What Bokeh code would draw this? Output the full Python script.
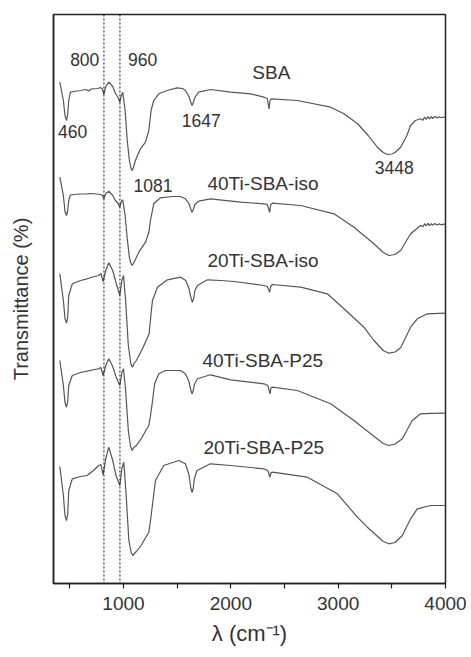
from bokeh.plotting import figure
from bokeh.models import Range1d, FixedTicker, Span, Label
from bokeh.embed import file_html
from bokeh.resources import INLINE

# ---------------- data ----------------
sba_wn = [407, 440, 455, 469, 480, 490, 505, 537, 600, 650, 676, 700, 760, 786, 805, 817, 835, 863, 900, 925, 950, 966,
          980, 993, 1015, 1035, 1055, 1068, 1080, 1093, 1111, 1158, 1205, 1236, 1257, 1282, 1329, 1406, 1499, 1550, 1577,
          1610, 1628, 1639, 1650, 1665, 1701, 1810, 2000, 2185, 2309, 2340, 2356, 2366, 2378, 2620, 2930, 3050, 3179, 3280,
          3365, 3420, 3458, 3500, 3530, 3582, 3640, 3675, 3720, 3768, 3790, 3805, 3820, 3835, 3850, 3865, 3880, 3900, 3920,
          3940, 3960, 3980, 4000]
sba_t = [501.3, 483, 468, 463, 469, 483, 491.3, 492, 493, 494, 492.5, 494.5, 495, 496, 494, 489, 497, 501.3, 497, 490, 486,
         481.3, 488, 491.3, 473, 443, 423, 416, 413, 416, 423, 434.7, 441.3, 453, 473, 483, 489.7, 493, 495.7, 495, 493, 487,
         481, 478, 481, 486, 491.3, 494, 491.3, 489.7, 486.3, 485, 474.7, 483, 484.7, 483, 476.3, 470, 460, 448, 436.3, 431,
         429, 429.5, 431, 436.3, 448, 458, 463, 464.7, 463.2, 466.5, 464, 467, 464.5, 466.8, 465, 467.2, 465.5, 466.8, 465.8,
         466.5, 466.3]

ti40_iso_wn = [407, 440, 455, 469, 480, 490, 505, 537, 600, 661, 700, 786, 805, 817, 835, 863, 900, 925, 950, 966, 980, 993,
               1015, 1035, 1055, 1068, 1081, 1094, 1111, 1143, 1205, 1236, 1251, 1282, 1344, 1450, 1530, 1577, 1610, 1628,
               1639, 1650, 1665, 1701, 1810, 2092, 2309, 2340, 2362, 2372, 2387, 2651, 2961, 3147, 3333, 3420, 3473, 3530,
               3582, 3675, 3768, 3790, 3805, 3820, 3835, 3850, 3865, 3880, 3900, 3920, 3940, 3960, 3980, 4000]
ti40_iso_t = [406.3, 388, 372, 368, 373, 383, 388.5, 389, 389.5, 389.7, 390, 389, 388, 384.7, 390, 392.3, 388, 383, 380, 376.3,
              382, 383.7, 368, 345, 326, 320.5, 318, 320.5, 324, 331.3, 341.3, 351, 363, 379.7, 385.7, 387, 387, 384.7, 380,
              374, 371.3, 374, 379, 382.3, 384.7, 381.3, 379.7, 379, 371.3, 379, 380.3, 378, 369.7, 356.3, 339.7, 331, 328,
              329, 333, 349.7, 358, 356.8, 359.8, 357.5, 360.2, 357.8, 359.9, 358.2, 360, 358.5, 359.6, 358.7, 359.3, 359]

ti20_iso_wn = [407, 440, 455, 469, 480, 490, 523, 600, 661, 730, 770, 790, 810, 835, 863, 900, 930, 966, 985, 1000, 1020,
               1045, 1068, 1083, 1098, 1120, 1177, 1239, 1255, 1270, 1316, 1409, 1533, 1580, 1610, 1630, 1642, 1654, 1665,
               1689, 1782, 1906, 2030, 2309, 2340, 2362, 2372, 2387, 2651, 2899, 3054, 3240, 3333, 3420, 3473, 3530, 3582,
               3675, 3737, 3830, 4000]
ti20_iso_t = [309.7, 283, 265, 260.3, 266, 288, 299.7, 303, 304.7, 307, 308, 310, 302, 313, 320.7, 313, 301, 288, 303, 308,
              283, 238, 220, 216.3, 220, 223, 234.7, 249.7, 268, 283, 296.3, 303.7, 306.3, 303, 295, 285, 281.3, 285, 293,
              298, 303.7, 303, 302, 298, 297, 291.3, 297, 299, 296.3, 289.7, 274.7, 256.3, 243, 233, 230.3, 231.5, 235.7,
              256.3, 264.7, 269.7, 270.3]

ti40_p25_wn = [407, 440, 455, 469, 480, 490, 523, 600, 661, 730, 770, 790, 810, 835, 863, 900, 930, 966, 985, 1000, 1020,
               1045, 1066, 1081, 1096, 1120, 1164, 1236, 1252, 1267, 1290, 1330, 1390, 1530, 1577, 1610, 1628, 1639, 1650,
               1660, 1689, 1810, 2000, 2309, 2345, 2365, 2375, 2388, 2620, 2930, 3147, 3303, 3420, 3473, 3530, 3598, 3690,
               3768, 3860, 4000]
ti40_p25_t = [223, 198, 181, 176.3, 182, 198, 208, 211, 212.3, 214, 214.7, 216, 208, 218, 224.7, 217, 207, 198, 211, 214.7,
              193, 153, 137, 133, 136, 138, 144.7, 158, 168, 179.7, 199.7, 209.7, 213, 213, 209.7, 202, 193, 189.7, 193,
              199, 204.7, 208.7, 203.7, 199.7, 198, 189.7, 196, 196.3, 193, 179.7, 163, 149.7, 140, 138, 139.5, 144.7,
              163, 169.7, 170.2, 170.3]

ti20_p25_wn = [407, 440, 455, 469, 480, 490, 523, 600, 661, 720, 770, 790, 810, 835, 863, 900, 930, 966, 985, 1003, 1025,
               1050, 1072, 1087, 1102, 1120, 1164, 1236, 1252, 1267, 1298, 1375, 1515, 1577, 1610, 1628, 1639, 1650, 1660,
               1686, 1810, 1999, 2309, 2345, 2365, 2375, 2388, 2713, 2993, 3179, 3272, 3420, 3473, 3530, 3598, 3675, 3737,
               3861, 4000]
ti20_p25_t = [117, 88, 68, 63, 69, 93, 104.7, 107, 108, 113, 118, 119, 108.7, 125, 136.3, 123, 108, 98, 115, 121.3, 88, 43,
              31, 28, 30, 32, 38, 51.3, 63, 76.3, 103, 118, 123, 119.7, 109, 95, 91.3, 95, 105, 113, 119.7, 118, 114.7,
              113, 106.3, 111, 111.3, 106.3, 89.7, 66.3, 56.3, 42, 39.7, 41, 48, 64.7, 74.7, 78, 78]

marker_lines = [818, 967]
x_ticks = [1000, 2000, 3000, 4000]
x_minor_ticks = [500, 1500, 2500, 3500]

series_names = ["SBA", "40Ti-SBA-iso", "20Ti-SBA-iso", "40Ti-SBA-P25", "20Ti-SBA-P25"]
series_label_x = [2200, 1782, 1782, 1735, 1745]
series_label_y = [511.3, 399.7, 323, 223, 136.3]

peak_texts = ["800", "960", "460", "1647", "1081", "3448"]
peak_x = [503, 1043, 391, 1543, 1093, 3342]
peak_y = [523.7, 523.7, 452.3, 463, 398, 416.3]

# ---------------- figure ----------------
FONT = "Liberation Sans"
p = figure(width=471, height=657, output_backend="svg", toolbar_location=None,
           x_range=Range1d(348, 4000), y_range=Range1d(0, 569),
           min_border_left=53, min_border_right=26, min_border_top=14, min_border_bottom=74)
p.xgrid.visible = False
p.ygrid.visible = False
p.background_fill_color = "white"
p.border_fill_color = "white"
p.outline_line_color = "#222222"
p.outline_line_width = 1.5
p.outline_line_alpha = 1

xa = p.xaxis[0]
xa.ticker = FixedTicker(ticks=x_ticks, minor_ticks=x_minor_ticks)
xa.major_tick_in = 0
xa.major_tick_out = 5
xa.minor_tick_in = 0
xa.minor_tick_out = 5
xa.major_tick_line_color = "#222222"
xa.minor_tick_line_color = "#222222"
xa.major_tick_line_width = 1.2
xa.minor_tick_line_width = 1.2
xa.axis_line_color = "#222222"
xa.axis_line_width = 1.5
xa.major_label_text_font = FONT
xa.major_label_text_font_size = "19px"
xa.major_label_text_color = "#333333"
xa.major_label_standoff = 8
xa.axis_label = "λ (cm⁻¹)"
xa.axis_label_text_font = FONT
xa.axis_label_text_font_size = "22px"
xa.axis_label_text_font_style = "normal"
xa.axis_label_text_color = "#333333"
xa.axis_label_standoff = 8

ya = p.yaxis[0]
ya.ticker = FixedTicker(ticks=[])
ya.major_tick_in = 0
ya.major_tick_out = 0
ya.minor_tick_in = 0
ya.minor_tick_out = 0
ya.major_label_standoff = 0
ya.axis_line_color = "#222222"
ya.axis_line_width = 1.5
ya.axis_label = "Transmittance (%)"
ya.axis_label_text_font = FONT
ya.axis_label_text_font_size = "20px"
ya.axis_label_text_font_style = "normal"
ya.axis_label_text_color = "#333333"
ya.axis_label_standoff = 22

for loc in marker_lines:
    p.add_layout(Span(location=loc, dimension="height", line_color="#111111",
                      line_width=1, line_dash="2 2"))

for wn, t in [(sba_wn, sba_t), (ti40_iso_wn, ti40_iso_t), (ti20_iso_wn, ti20_iso_t),
              (ti40_p25_wn, ti40_p25_t), (ti20_p25_wn, ti20_p25_t)]:
    p.line(wn, t, line_color="#555555", line_width=1.2)

for name, lx, ly in zip(series_names, series_label_x, series_label_y):
    p.add_layout(Label(x=lx, y=ly, text=name, text_font=FONT, text_font_size="19px",
                       text_color="#333333", text_align="left", text_baseline="middle"))

for txt, lx, ly in zip(peak_texts, peak_x, peak_y):
    p.add_layout(Label(x=lx, y=ly, text=txt, text_font=FONT, text_font_size="17.5px",
                       text_color="#333333", text_align="left", text_baseline="middle"))

open("out.html", "w").write(file_html(p, INLINE))
